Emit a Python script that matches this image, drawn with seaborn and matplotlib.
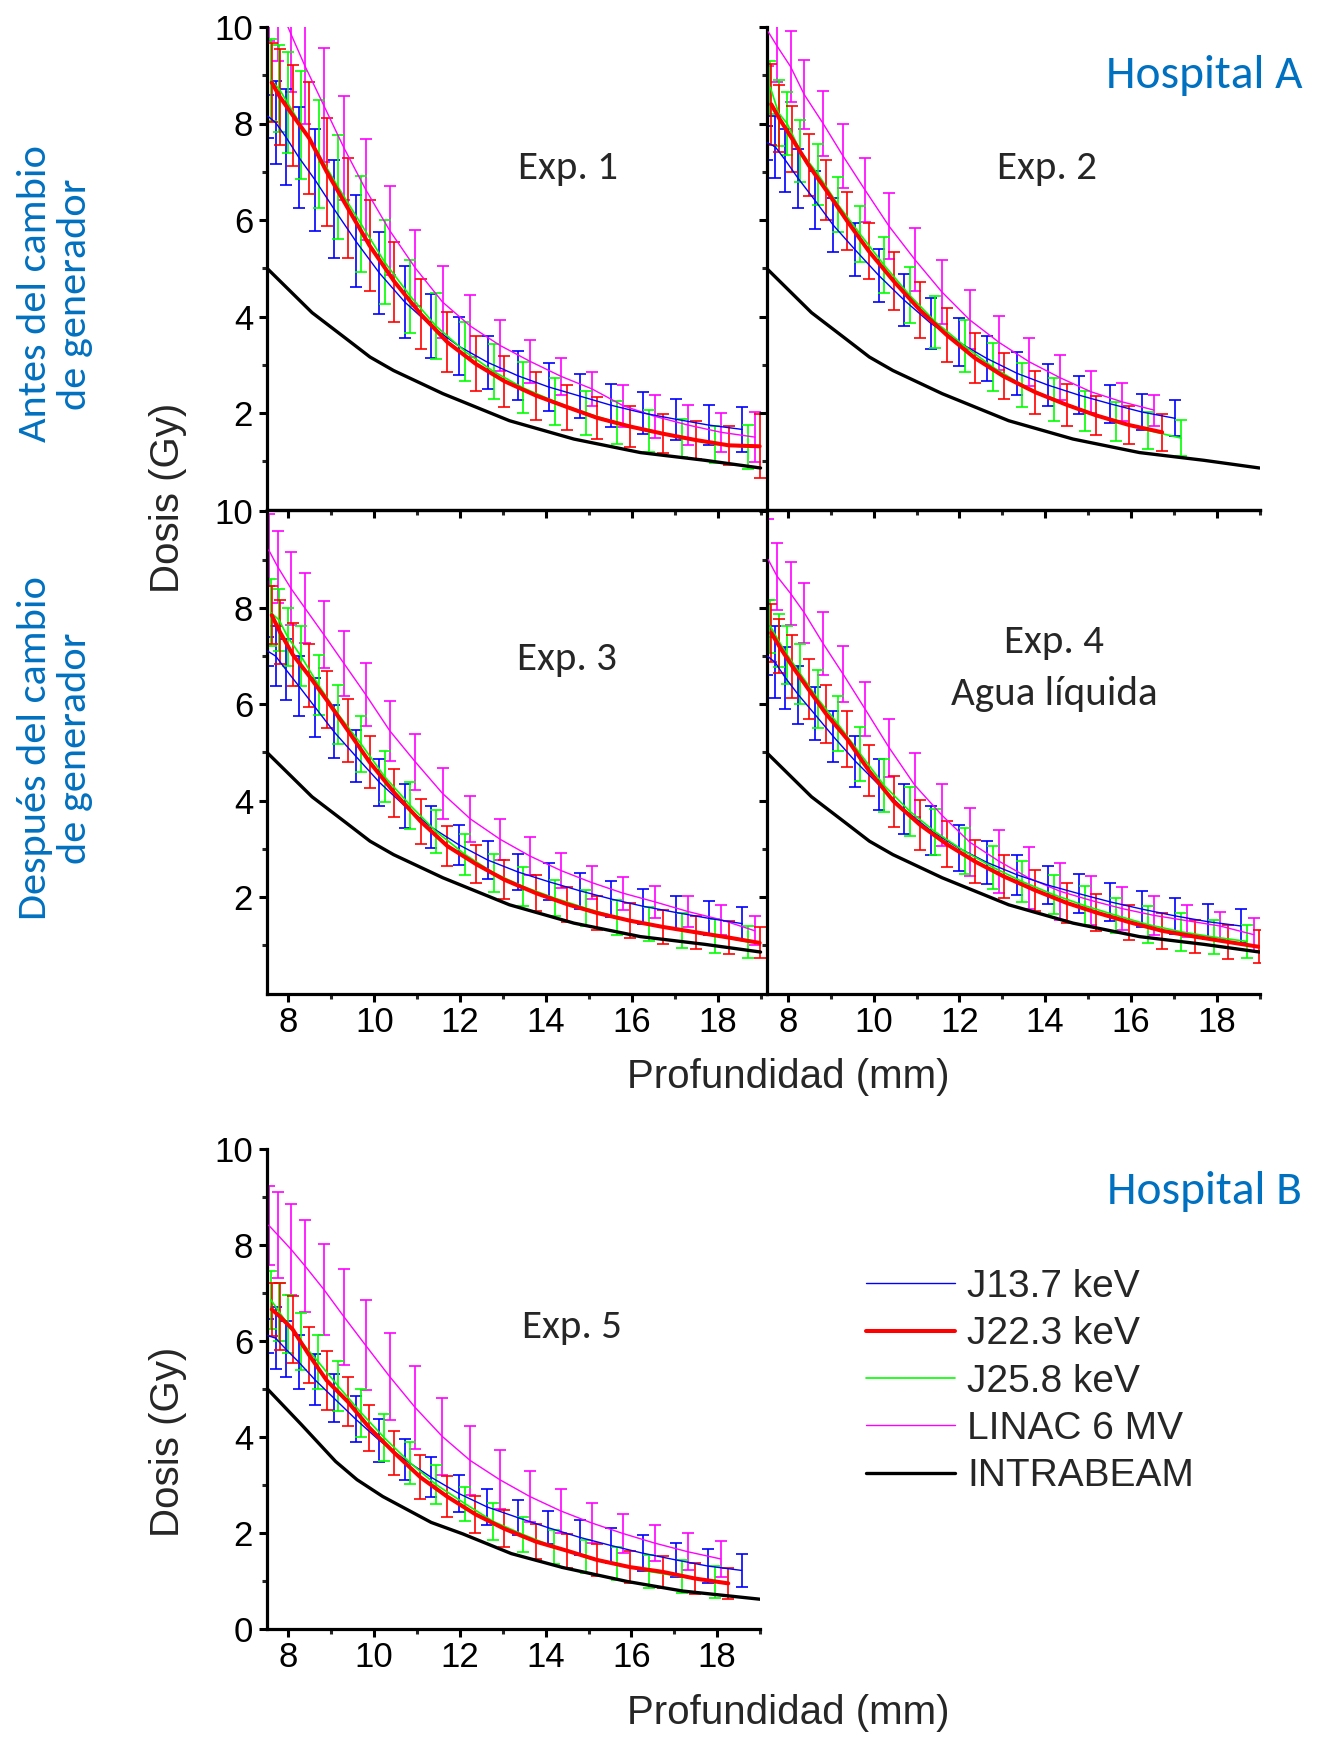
import numpy as np
import pandas as pd
import matplotlib
matplotlib.use("Agg")
import matplotlib.pyplot as plt
import seaborn as sns
from matplotlib import font_manager as fm
from matplotlib.lines import Line2D

# ---------------- data ----------------
# depth positions (mm) of the error bars of each series
x_j137 = [7.52, 7.70, 7.94, 8.24, 8.62, 9.06, 9.57, 10.12, 10.71, 11.33, 11.98, 12.64, 13.35, 14.06, 14.79, 15.52, 16.26, 17.03, 17.79, 18.57]
x_j223 = [7.61, 7.80, 8.10, 8.48, 8.89, 9.38, 9.89, 10.47, 11.08, 11.70, 12.36, 13.03, 13.77, 14.50, 15.19, 15.96, 16.73, 17.49, 18.26, 18.98]
x_j258 = [7.59, 7.78, 7.98, 8.29, 8.70, 9.16, 9.69, 10.24, 10.84, 11.44, 12.12, 12.78, 13.47, 14.20, 14.93, 15.66, 16.40, 17.17, 17.94, 18.71]
x_linac = [7.54, 7.75, 8.06, 8.38, 8.82, 9.29, 9.80, 10.36, 10.96, 11.59, 12.24, 12.93, 13.63, 14.35, 15.07, 15.80, 16.54, 17.31, 18.08, 18.87]

# INTRABEAM reference curves
ib_a_x = [7.5, 8.55, 9.33, 9.9, 10.45, 11.6, 13.15, 14.65, 16.2, 17.7, 19.0]
ib_a_y = [5.0, 4.08, 3.55, 3.16, 2.88, 2.4, 1.84, 1.46, 1.18, 1.02, 0.86]
ib_b_x = [7.5, 8.3, 9.1, 9.6, 10.2, 11.33, 12.07, 13.2, 14.4, 15.9, 17.2, 19.0]
ib_b_y = [5.0, 4.25, 3.48, 3.1, 2.75, 2.21, 1.97, 1.56, 1.27, 0.98, 0.78, 0.61]

# Exp. 1
e1_j137_y = [8.15, 8.02, 7.72, 7.30, 6.83, 6.23, 5.56, 4.90, 4.30, 3.80, 3.38, 3.05, 2.77, 2.54, 2.35, 2.16, 2.00, 1.87, 1.75, 1.66]
e1_j137_e = [0.45, 0.86, 1.00, 1.05, 1.05, 1.02, 0.95, 0.85, 0.75, 0.67, 0.60, 0.55, 0.51, 0.49, 0.45, 0.44, 0.43, 0.42, 0.41, 0.46]
e1_j223_y = [8.85, 8.55, 8.17, 7.70, 7.00, 6.25, 5.47, 4.72, 4.05, 3.47, 3.02, 2.66, 2.36, 2.12, 1.90, 1.72, 1.57, 1.44, 1.33, 1.31]
e1_j223_e = [0.82, 1.00, 1.05, 1.17, 1.12, 1.03, 0.94, 0.83, 0.72, 0.62, 0.57, 0.53, 0.50, 0.47, 0.44, 0.43, 0.40, 0.39, 0.40, 0.66]
e1_j258_y = [8.90, 8.72, 8.43, 7.97, 7.37, 6.68, 5.92, 5.13, 4.42, 3.80, 3.27, 2.86, 2.52, 2.24, 2.00, 1.80, 1.63, 1.48, 1.35, 1.29]
e1_j258_e = [0.85, 0.90, 1.05, 1.11, 1.12, 1.08, 1.00, 0.88, 0.76, 0.68, 0.61, 0.56, 0.53, 0.49, 0.46, 0.44, 0.43, 0.40, 0.39, 0.46]
e1_linac_y = [10.9, 10.5, 9.85, 9.20, 8.38, 7.50, 6.63, 5.78, 5.00, 4.30, 3.80, 3.40, 3.07, 2.76, 2.50, 2.15, 1.93, 1.75, 1.60, 1.50]
e1_linac_e = [1.20, 1.20, 1.20, 1.20, 1.18, 1.08, 1.04, 0.93, 0.79, 0.75, 0.64, 0.53, 0.44, 0.38, 0.35, 0.44, 0.45, 0.42, 0.40, 0.52]

# Exp. 2
e2_j137_y = [7.60, 7.52, 7.24, 6.86, 6.42, 5.89, 5.38, 4.85, 4.34, 3.86, 3.47, 3.13, 2.82, 2.58, 2.37, 2.19, 2.02, 1.89]
e2_j137_e = [0.35, 0.64, 0.65, 0.61, 0.60, 0.56, 0.55, 0.54, 0.54, 0.53, 0.50, 0.47, 0.44, 0.43, 0.40, 0.40, 0.38, 0.37]
e2_j223_y = [8.40, 8.10, 7.68, 7.14, 6.62, 5.98, 5.35, 4.73, 4.13, 3.62, 3.14, 2.76, 2.43, 2.17, 1.95, 1.75, 1.60]
e2_j223_e = [0.84, 0.70, 0.68, 0.64, 0.62, 0.61, 0.58, 0.60, 0.58, 0.56, 0.52, 0.48, 0.45, 0.43, 0.41, 0.39, 0.38]
e2_j258_y = [8.75, 8.22, 8.00, 7.43, 6.95, 6.33, 5.70, 5.07, 4.44, 3.89, 3.39, 2.95, 2.58, 2.28, 2.04, 1.82, 1.64, 1.48]
e2_j258_e = [0.55, 0.68, 0.66, 0.65, 0.63, 0.57, 0.58, 0.58, 0.58, 0.54, 0.54, 0.50, 0.46, 0.44, 0.42, 0.41, 0.38, 0.38]
e2_linac_y = [9.90, 9.60, 9.18, 8.60, 8.00, 7.32, 6.62, 5.87, 5.18, 4.51, 3.93, 3.46, 3.06, 2.73, 2.44, 2.23, 2.06]
e2_linac_e = [0.70, 0.75, 0.74, 0.72, 0.67, 0.66, 0.67, 0.68, 0.65, 0.66, 0.61, 0.56, 0.50, 0.47, 0.44, 0.39, 0.32]

# Exp. 3
e3_j137_y = [7.10, 7.00, 6.72, 6.38, 5.94, 5.43, 4.92, 4.38, 3.89, 3.45, 3.08, 2.77, 2.52, 2.32, 2.13, 1.96, 1.81, 1.68, 1.56, 1.45]
e3_j137_e = [0.30, 0.62, 0.64, 0.62, 0.61, 0.55, 0.54, 0.49, 0.45, 0.43, 0.41, 0.39, 0.38, 0.38, 0.38, 0.37, 0.36, 0.35, 0.35, 0.34]
e3_j223_y = [7.85, 7.50, 7.03, 6.59, 6.09, 5.46, 4.80, 4.16, 3.57, 3.06, 2.69, 2.36, 2.08, 1.85, 1.67, 1.51, 1.38, 1.27, 1.16, 1.05]
e3_j223_e = [0.60, 0.67, 0.66, 0.65, 0.59, 0.65, 0.54, 0.50, 0.46, 0.41, 0.40, 0.40, 0.37, 0.36, 0.36, 0.36, 0.35, 0.34, 0.35, 0.32]
e3_j258_y = [7.90, 7.75, 7.40, 7.00, 6.40, 5.79, 5.18, 4.50, 3.90, 3.36, 2.88, 2.50, 2.22, 1.98, 1.77, 1.58, 1.44, 1.31, 1.20, 1.07]
e3_j258_e = [0.70, 0.65, 0.60, 0.63, 0.63, 0.61, 0.58, 0.53, 0.48, 0.45, 0.43, 0.40, 0.40, 0.38, 0.37, 0.36, 0.36, 0.36, 0.35, 0.34]
e3_linac_y = [9.20, 8.85, 8.40, 8.00, 7.45, 6.85, 6.20, 5.45, 4.80, 4.15, 3.62, 3.20, 2.85, 2.55, 2.30, 2.08, 1.90, 1.70, 1.53, 1.30]
e3_linac_e = [0.75, 0.75, 0.75, 0.72, 0.70, 0.68, 0.66, 0.62, 0.58, 0.52, 0.47, 0.43, 0.40, 0.37, 0.35, 0.34, 0.33, 0.32, 0.31, 0.30]

# Exp. 4
e4_j137_y = [7.00, 6.87, 6.55, 6.20, 5.80, 5.33, 4.82, 4.33, 3.82, 3.38, 3.02, 2.72, 2.46, 2.25, 2.07, 1.90, 1.75, 1.61, 1.49, 1.40]
e4_j137_e = [0.40, 0.75, 0.64, 0.60, 0.55, 0.53, 0.53, 0.53, 0.52, 0.50, 0.47, 0.45, 0.42, 0.40, 0.40, 0.40, 0.38, 0.37, 0.36, 0.35]
e4_j223_y = [7.48, 7.20, 6.79, 6.31, 5.80, 5.28, 4.62, 3.98, 3.50, 3.10, 2.74, 2.43, 2.14, 1.88, 1.68, 1.48, 1.30, 1.18, 1.07, 0.97]
e4_j223_e = [0.60, 0.56, 0.65, 0.62, 0.60, 0.58, 0.53, 0.53, 0.52, 0.48, 0.45, 0.44, 0.43, 0.41, 0.39, 0.36, 0.37, 0.35, 0.36, 0.34]
e4_j258_y = [7.62, 7.32, 7.03, 6.63, 6.11, 5.60, 4.97, 4.32, 3.78, 3.35, 2.95, 2.62, 2.32, 2.05, 1.82, 1.62, 1.43, 1.28, 1.17, 1.08]
e4_j258_e = [0.55, 0.55, 0.60, 0.63, 0.60, 0.57, 0.56, 0.55, 0.51, 0.48, 0.48, 0.45, 0.42, 0.40, 0.40, 0.37, 0.38, 0.39, 0.36, 0.35]
e4_linac_y = [9.00, 8.65, 8.30, 7.90, 7.26, 6.62, 5.90, 5.10, 4.32, 3.70, 3.14, 2.74, 2.39, 2.12, 1.93, 1.76, 1.62, 1.51, 1.40, 1.22]
e4_linac_e = [0.84, 0.69, 0.65, 0.62, 0.66, 0.58, 0.56, 0.60, 0.66, 0.65, 0.70, 0.66, 0.64, 0.59, 0.50, 0.45, 0.40, 0.33, 0.30, 0.34]

# Exp. 5
e5_j137_y = [6.10, 6.05, 5.82, 5.55, 5.18, 4.80, 4.36, 3.92, 3.52, 3.15, 2.81, 2.53, 2.31, 2.10, 1.90, 1.73, 1.57, 1.43, 1.30, 1.21]
e5_j137_e = [0.35, 0.64, 0.58, 0.57, 0.53, 0.50, 0.48, 0.45, 0.43, 0.42, 0.39, 0.38, 0.37, 0.34, 0.36, 0.36, 0.37, 0.36, 0.36, 0.35]
e5_j223_y = [6.65, 6.50, 6.23, 5.70, 5.17, 4.73, 4.18, 3.66, 3.15, 2.75, 2.38, 2.08, 1.81, 1.62, 1.43, 1.28, 1.18, 1.04, 0.94]
e5_j223_e = [0.55, 0.70, 0.70, 0.58, 0.62, 0.52, 0.48, 0.46, 0.46, 0.43, 0.39, 0.38, 0.36, 0.35, 0.34, 0.34, 0.34, 0.33, 0.33]
e5_j258_y = [6.85, 6.60, 6.35, 5.98, 5.55, 5.05, 4.50, 3.97, 3.45, 3.00, 2.60, 2.23, 1.96, 1.70, 1.50, 1.35, 1.19, 1.08, 0.97]
e5_j258_e = [0.60, 0.60, 0.60, 0.60, 0.57, 0.52, 0.50, 0.49, 0.44, 0.40, 0.35, 0.39, 0.36, 0.35, 0.35, 0.34, 0.35, 0.34, 0.34]
e5_linac_y = [8.40, 8.20, 7.90, 7.56, 7.07, 6.50, 5.90, 5.25, 4.60, 4.00, 3.50, 3.10, 2.75, 2.45, 2.20, 1.98, 1.78, 1.60, 1.45]
e5_linac_e = [0.82, 0.90, 0.95, 0.96, 0.95, 1.00, 0.94, 0.90, 0.87, 0.80, 0.72, 0.61, 0.53, 0.46, 0.42, 0.40, 0.37, 0.39, 0.37]

series_labels = ["J13.7 keV", "J22.3 keV", "J25.8 keV", "LINAC 6 MV", "INTRABEAM"]
panel_titles = ["Exp. 1", "Exp. 2", "Exp. 3", "Exp. 4\nAgua líquida", "Exp. 5"]
y_ticks = [0, 2, 4, 6, 8, 10]
x_ticks = [8, 10, 12, 14, 16, 18]

# ---------------- style ----------------
sns.set_theme(style="ticks")
plt.rcParams["font.family"] = ["Liberation Sans", "DejaVu Sans"]
avail = {f.name for f in fm.fontManager.ttflist}
cal_font = next((f for f in ["Carlito", "Open Sans", "Noto Sans"] if f in avail), "DejaVu Sans")
side_font = next((f for f in ["Carlito", "Liberation Sans Narrow", "Open Sans"] if f in avail), "DejaVu Sans")

COL = {"j137": "#0000FF", "j223": "#FF0000", "j258": "#00FF00", "linac": "#FF00FF", "ib": "#000000"}
LW = {"j137": 1.0, "j223": 2.9, "j258": 1.2, "linac": 1.0, "ib": 2.4}
XS = {"j137": x_j137, "j223": x_j223, "j258": x_j258, "linac": x_linac}
TXT_BLUE = "#0070C0"

W, H = 1317, 1737
fig = plt.figure(figsize=(W / 100, H / 100), dpi=100)
fig.patch.set_facecolor("white")


def rect(x0, x1, yt, yb):
    return [x0 / W, 1 - yb / H, (x1 - x0) / W, (yb - yt) / H]


def draw_panel(ax, data, ibx, iby, xmax, ymax=10.0):
    ax.set_facecolor("none")
    order = ["linac", "j137", "j258", "j223"]
    for key in order:
        ys, es = data[key]
        xs = XS[key][: len(ys)]
        ax.errorbar(xs, ys, yerr=es, fmt="none", ecolor=COL[key], elinewidth=1.2,
                    capsize=4.2, capthick=1.2, zorder=2)
    for key in order:
        ys, _ = data[key]
        xs = XS[key][: len(ys)]
        df = pd.DataFrame({"x": xs, "y": ys})
        sns.lineplot(data=df, x="x", y="y", ax=ax, color=COL[key], linewidth=LW[key],
                     sort=False, estimator=None, legend=False, zorder=3)
    dfb = pd.DataFrame({"x": ibx, "y": iby})
    sns.lineplot(data=dfb, x="x", y="y", ax=ax, color=COL["ib"], linewidth=LW["ib"],
                 sort=False, estimator=None, legend=False, zorder=4)
    ax.set_xlim(7.5, xmax)
    ax.set_ylim(0, ymax)
    ax.set_xlabel("")
    ax.set_ylabel("")
    ax.set_xticks(x_ticks)
    ax.set_xticks([9, 11, 13, 15, 17, 19], minor=True)
    ax.set_yticks([1, 3, 5, 7, 9], minor=True)
    for s in ax.spines.values():
        s.set_linewidth(2.3)
        s.set_color("black")
    ax.spines["right"].set_visible(False)
    ax.spines["top"].set_visible(False)
    ax.tick_params(axis="both", which="major", direction="out", length=6, width=2.2,
                   labelsize=25, colors="black", top=False, right=False)
    ax.tick_params(axis="both", which="minor", direction="out", length=3.5, width=2.2,
                   top=False, right=False)
    ax.tick_params(axis="y", pad=4)
    ax.tick_params(axis="x", pad=3)
    ax.grid(False)


panels = [
    dict(r=rect(267, 767, 27, 509.5), xmax=19.15, ymax=10.0,
         d={"j137": (e1_j137_y, e1_j137_e), "j223": (e1_j223_y, e1_j223_e),
            "j258": (e1_j258_y, e1_j258_e), "linac": (e1_linac_y, e1_linac_e)},
         ib=(ib_a_x, ib_a_y), ylab=True, xlab=False),
    dict(r=rect(766.5, 1259.5, 27, 509.5), xmax=19.0, ymax=10.0,
         d={"j137": (e2_j137_y, e2_j137_e), "j223": (e2_j223_y, e2_j223_e),
            "j258": (e2_j258_y, e2_j258_e), "linac": (e2_linac_y, e2_linac_e)},
         ib=(ib_a_x, ib_a_y), ylab=False, xlab=False),
    dict(r=rect(267, 767, 509.5, 993.5), xmax=19.15, ymax=10.04,
         d={"j137": (e3_j137_y, e3_j137_e), "j223": (e3_j223_y, e3_j223_e),
            "j258": (e3_j258_y, e3_j258_e), "linac": (e3_linac_y, e3_linac_e)},
         ib=(ib_a_x, ib_a_y), ylab=True, xlab=True),
    dict(r=rect(766.5, 1259.5, 509.5, 993.5), xmax=19.0, ymax=10.04,
         d={"j137": (e4_j137_y, e4_j137_e), "j223": (e4_j223_y, e4_j223_e),
            "j258": (e4_j258_y, e4_j258_e), "linac": (e4_linac_y, e4_linac_e)},
         ib=(ib_a_x, ib_a_y), ylab=False, xlab=True),
    dict(r=rect(267, 760, 1148.5, 1628.5), xmax=19.0, ymax=10.0,
         d={"j137": (e5_j137_y, e5_j137_e), "j223": (e5_j223_y, e5_j223_e),
            "j258": (e5_j258_y, e5_j258_e), "linac": (e5_linac_y, e5_linac_e)},
         ib=(ib_b_x, ib_b_y), ylab=True, xlab=True),
]

axes = []
for i, p in enumerate(panels):
    ax = fig.add_axes(p["r"])
    draw_panel(ax, p["d"], p["ib"][0], p["ib"][1], p["xmax"], p["ymax"])
    if i == 4:
        ax.set_yticks(y_ticks)
    else:
        ax.set_yticks(y_ticks[1:])
    if not p["ylab"]:
        ax.set_yticklabels([])
    else:
        ax.set_yticklabels([str(v) for v in (y_ticks if i == 4 else y_ticks[1:])])
    if not p["xlab"]:
        ax.set_xticklabels([])
    else:
        ax.set_xticklabels([str(v) for v in x_ticks])
    if i in (2, 3):
        ax.spines["top"].set_visible(True)
    axes.append(ax)


def ftxt(x, y, s, **kw):
    return fig.text(x / W, 1 - y / H, s, **kw)


# axis labels
ftxt(168, 498, "Dosis (Gy)", rotation=90, ha="center", va="center", fontsize=29)
ftxt(168, 1442, "Dosis (Gy)", rotation=90, ha="center", va="center", fontsize=29)
ftxt(788, 1077, "Profundidad (mm)", ha="center", va="center", fontsize=29)
ftxt(788, 1713, "Profundidad (mm)", ha="center", va="center", fontsize=29)

# panel texts (Calibri-like)
t_exp = [
    ftxt(568, 168, panel_titles[0], ha="center", va="center", fontsize=26, family=cal_font),
    ftxt(1047, 168, panel_titles[1], ha="center", va="center", fontsize=26, family=cal_font),
    ftxt(567, 659, panel_titles[2], ha="center", va="center", fontsize=26, family=cal_font),
    ftxt(1054, 642, panel_titles[3].split("\n")[0], ha="center", va="center", fontsize=26, family=cal_font),
    ftxt(1054, 694, panel_titles[3].split("\n")[1], ha="center", va="center", fontsize=26, family=cal_font),
    ftxt(572, 1327, panel_titles[4], ha="center", va="center", fontsize=26, family=cal_font),
]
t_hosp = [
    ftxt(1302, 75, "Hospital A", ha="right", va="center", fontsize=29, color=TXT_BLUE, family=cal_font),
    ftxt(1302, 1191, "Hospital B", ha="right", va="center", fontsize=29, color=TXT_BLUE, family=cal_font),
]
t_side = [
    ftxt(55, 294, "Antes del cambio\nde generador", rotation=90, ha="center", va="center",
         multialignment="center", fontsize=28, color=TXT_BLUE, family=side_font, linespacing=1.12),
    ftxt(55, 748, "Después del cambio\nde generador", rotation=90, ha="center", va="center",
         multialignment="center", fontsize=28, color=TXT_BLUE, family=side_font, linespacing=1.12),
]

# legend
handles = [Line2D([0], [0], color=COL[k], linewidth=LW[k]) for k in ["j137", "j223", "j258", "linac", "ib"]]
fig.legend(handles, series_labels, loc="upper left", bbox_to_anchor=(866 / W, 1 - 1269 / H),
           frameon=False, fontsize=28, handlelength=2.3, handletextpad=0.3,
           labelspacing=0.29, borderpad=0, borderaxespad=0)

# fit Calibri-like text sizes to the measured widths of the reference
fig.canvas.draw()
rend = fig.canvas.get_renderer()


def fit(t, target, use_height=False):
    bb = t.get_window_extent(rend)
    cur = bb.height if use_height else bb.width
    t.set_fontsize(t.get_fontsize() * target / cur)


fit(t_exp[0], 100)
for t in t_exp[1:]:
    t.set_fontsize(t_exp[0].get_fontsize())
fit(t_hosp[0], 196)
t_hosp[1].set_fontsize(t_hosp[0].get_fontsize())
# side labels: longest line "Antes del cambio" ~297 px
probe = ftxt(0, 0, "Antes del cambio", fontsize=28, family=side_font)
bb = probe.get_window_extent(rend)
side_size = 28 * 297 / bb.width
probe.remove()
for t in t_side:
    t.set_fontsize(side_size)

fig.savefig("out.png", dpi=100, facecolor="white")
